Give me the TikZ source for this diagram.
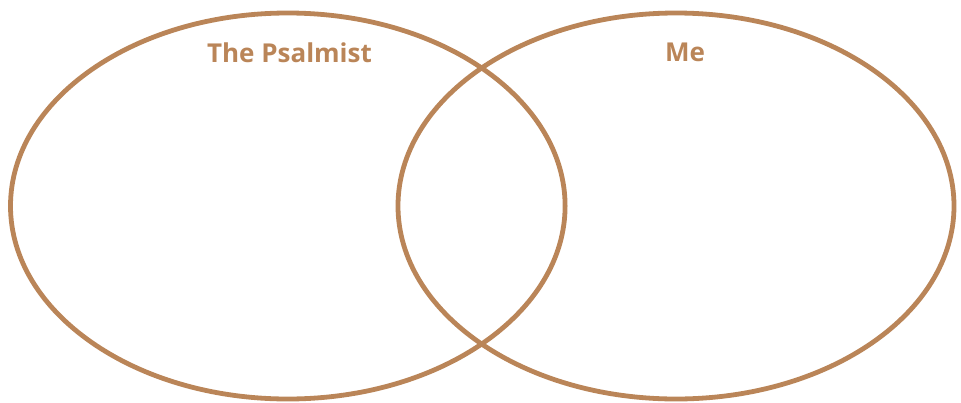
\documentclass[tikz,border=0pt]{standalone}
\usepackage{fontspec}
\setmainfont{Open Sans}
\definecolor{venn}{HTML}{BA8558}
\begin{document}
\begin{tikzpicture}[x=1pt,y=-1pt,
  ring/.style={draw=venn,line width=4.8pt},
  lbl/.style={text=venn,font=\fontsize{26}{30}\selectfont\bfseries,inner sep=0pt}]
\useasboundingbox (0,0) rectangle (961,402);
\draw[ring] (287.8,206) ellipse [x radius=277.3, y radius=193];
\draw[ring] (676,206) ellipse [x radius=278, y radius=193];
\node[lbl] (a) at (289.5,52.5) {The Psalmist};
\node[lbl] (b) at (685,52.5) {Me};
\end{tikzpicture}
\end{document}
